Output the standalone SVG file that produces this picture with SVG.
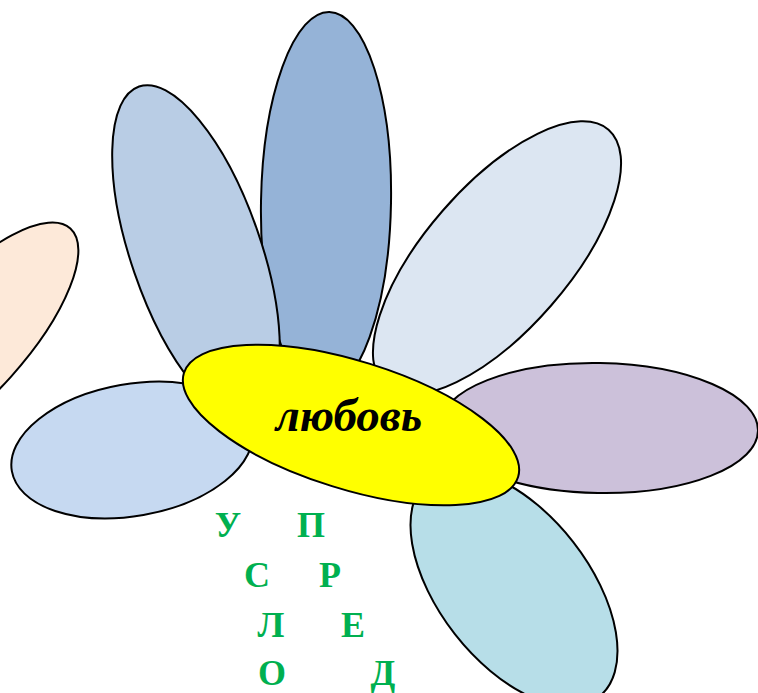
<svg xmlns="http://www.w3.org/2000/svg" width="758" height="693" viewBox="0 0 758 693">
<style>
.p{stroke:#000;stroke-width:2}
.l{font-family:"Liberation Serif","Times New Roman",serif;font-weight:bold;font-size:36px;fill:#00B050;text-anchor:middle}
.c{font-family:"Liberation Serif","Times New Roman",serif;font-weight:bold;font-style:italic;font-size:47px;fill:#000;text-anchor:middle}
</style>
<rect width="758" height="693" fill="#fff"/>
<g id="petal-peach"><ellipse class="p" cx="0" cy="0" rx="55" ry="150" fill="#FDE9D9" transform="translate(-30 340) rotate(42)"/></g>
<g id="petal-top"><ellipse class="p" cx="0" cy="0" rx="65" ry="190" fill="#95B3D7" transform="translate(326 202) rotate(1)"/></g>
<g id="petal-upper-left"><ellipse class="p" cx="0" cy="0" rx="65" ry="175" fill="#B9CDE5" transform="translate(196 252) rotate(-19)"/></g>
<g id="petal-upper-right"><ellipse class="p" cx="0" cy="0" rx="72" ry="170" fill="#DCE6F2" transform="translate(497 258) rotate(41)"/></g>
<g id="petal-right"><ellipse class="p" cx="0" cy="0" rx="159" ry="65" fill="#CCC1DA" transform="translate(599 428) rotate(1)"/></g>
<g id="petal-lower-right"><ellipse class="p" cx="0" cy="0" rx="75" ry="138" fill="#B7DEE8" transform="translate(514 588) rotate(-38)"/></g>
<g id="petal-left"><ellipse class="p" cx="0" cy="0" rx="122" ry="66" fill="#C6D9F1" transform="translate(132 450) rotate(-10)"/></g>
<g id="center"><ellipse class="p" cx="0" cy="0" rx="175" ry="64" fill="#FFFF00" transform="translate(351 425) rotate(17.3)"/>
<text class="c" x="349" y="431">любовь</text></g>
<g id="letters">
<text class="l" x="228" y="537">У</text>
<text class="l" x="311" y="537">П</text>
<text class="l" x="257" y="587">С</text>
<text class="l" x="330" y="587">Р</text>
<text class="l" x="271" y="637">Л</text>
<text class="l" x="353" y="637">Е</text>
<text class="l" x="272" y="685">О</text>
<text class="l" x="383" y="685">Д</text>
</g>
</svg>
